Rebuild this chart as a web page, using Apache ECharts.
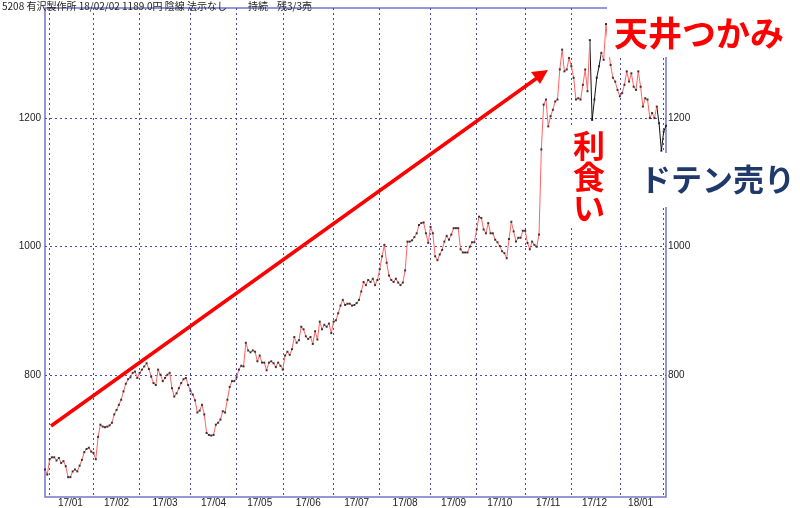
<!DOCTYPE html>
<html><head><meta charset="utf-8">
<script src="https://cdn.jsdelivr.net/npm/echarts@6/dist/echarts.min.js"></script>
<style>html,body{margin:0;padding:0;background:#fff}#c{width:800px;height:508px}</style>
</head><body><div id="c"></div>
<script>
// ---- data ----
const monthLabels = ['16/12','17/01','17/02','17/03','17/04','17/05','17/06','17/07','17/08','17/09','17/10','17/11','17/12','18/01','18/02'];
const monthDays   = [2,19,20,22,20,20,22,20,22,20,21,20,21,19,2];
const prices = [
 652,644,668,671,671,666,670,662,665,657,640,640,649,652,649,658,667,679,684,686,680,678,668,703,722,719,718,719,721,725,738,745,753,761,
 774,786,793,796,803,805,795,803,808,813,818,809,797,787,784,808,800,790,795,800,803,779,766,771,779,787,793,795,784,775,769,760,741,
 744,753,738,709,706,705,706,722,725,730,743,741,761,781,790,790,
 796,808,814,813,850,838,835,838,836,821,830,819,819,807,819,821,818,812,819,814,
 808,830,836,831,840,859,850,854,875,871,860,856,859,848,868,855,883,871,878,875,880,865,
 883,885,896,908,917,909,911,911,908,909,912,917,930,945,940,948,945,950,940,948,
 965,985,1003,975,955,948,945,950,944,940,944,963,1008,1008,1010,1015,1021,1034,1037,1038,1021,1006,
 1031,1021,985,979,988,995,1008,1017,1011,1019,1029,1029,1029,996,991,991,991,1000,1007,1007,
 1027,1047,1045,1027,1021,1037,1021,1021,1011,1007,1001,993,990,982,1012,1039,1024,1008,1014,1014,1025,
 1025,1006,996,1008,1003,1000,1019,1152,1222,1230,1188,1204,1214,1227,1230,1277,1308,1274,1277,1295,
 1282,1264,1230,1232,1230,1253,1277,1243,1323,1198,1230,1264,1282,1303,1292,1348,1309,1284,1264,1258,1245,
 1235,1240,1253,1274,1258,1271,1250,1245,1274,1250,1219,1232,1230,1201,1209,1201,1219,1193,
 1150,1180,1189
];
const yTicks = [800,1000,1200];
const blackRanges = [[236,241],[265,270]];
const header = ['5208 有沢製作所 18/02/02 1189.0円 陰線 法示なし','持続','残3/3売'];

// ---- build categories ----
const categories = [], monthStarts = new Set(), labelAt = {};
let k = 0;
monthLabels.forEach((m, mi) => {
  const n = monthDays[mi];
  if (mi > 0) monthStarts.add(k);
  if (mi > 0 && mi < monthLabels.length - 1) labelAt[k + Math.floor(n / 2)] = m;
  for (let d = 0; d < n; d++) categories.push(m + '#' + (d + 1));
  k += n;
});

const pink = '#ff6464';
const pieces = [];
let prev = 0;
blackRanges.forEach(r => {
  pieces.push({gte: prev, lt: r[0], color: pink});
  pieces.push({gte: r[0], lt: r[1], color: '#111'});
  prev = r[1];
});
pieces.push({gte: prev, color: pink});

const gridCol = '#4b4bae';
const labelFont = {fontSize: 10, color: '#222', fontFamily: 'Liberation Sans'};

const chart = echarts.init(document.getElementById('c'), null, {renderer: 'canvas'});
chart.setOption({
  animation: false,
  backgroundColor: '#fff',
  grid: {left: 45, right: 134, top: 8, bottom: 11, show: true, borderColor: '#7474cc', borderWidth: 1.5},
  xAxis: {
    type: 'category', data: categories, boundaryGap: false,
    axisLine: {show: false}, axisTick: {show: false},
    axisLabel: Object.assign({interval: (i) => labelAt[i] !== undefined, formatter: (v) => v.split('#')[0], margin: 1}, labelFont),
    splitLine: {show: true, interval: (i) => monthStarts.has(i), lineStyle: {color: gridCol, type: [2, 3], width: 1}}
  },
  yAxis: [
    {type: 'value', min: 609, max: 1373, position: 'left',
     axisLine: {show: false}, axisTick: {show: false, customValues: yTicks},
     axisLabel: Object.assign({customValues: yTicks, margin: 4, formatter: (v) => String(v)}, labelFont),
     splitLine: {show: true, lineStyle: {color: gridCol, type: [2, 3], width: 1}}},
    {type: 'value', min: 609, max: 1373, position: 'right',
     axisLine: {show: false}, axisTick: {show: false, customValues: yTicks},
     axisLabel: Object.assign({customValues: yTicks, margin: 2, formatter: (v) => String(v)}, labelFont),
     splitLine: {show: false}}
  ],
  visualMap: {type: 'piecewise', show: false, dimension: 0, seriesIndex: 0, pieces: pieces},
  series: [
    {type: 'line', data: prices, showSymbol: false, lineStyle: {width: 1}, z: 3},
    {type: 'scatter', data: prices, symbol: 'rect', symbolSize: 2, itemStyle: {color: '#111'}, z: 4}
  ],
  graphic: [
    {type: 'text', x: 2, y: 1, style: {text: header[0], font: '10px "Noto Sans CJK JP"', fill: '#222'}},
    {type: 'text', x: 248, y: 1, style: {text: header[1], font: '10px "Noto Sans CJK JP"', fill: '#222'}},
    {type: 'text', x: 277, y: 1, style: {text: header[2], font: '10px "Noto Sans CJK JP"', fill: '#222'}},
    {type: 'rect', shape: {x: 607, y: 0, width: 193, height: 57}, style: {fill: '#fff'}, z: 100},
    {type: 'text', x: 614, y: 16, style: {text: '天井つかみ', font: 'bold 34px "Noto Sans CJK JP"', fill: '#ff0000'}, z: 101},
    {type: 'rect', shape: {x: 566, y: 127, width: 54, height: 101}, style: {fill: '#fff'}, z: 100},
    {type: 'text', x: 589, y: 130, style: {text: '利\n食\nい', font: 'bold 32px "Noto Sans CJK JP"', fill: '#ff0000', align: 'center', lineHeight: 31}, z: 101},
    {type: 'rect', shape: {x: 632, y: 153, width: 168, height: 54}, style: {fill: '#fff'}, z: 100},
    {type: 'text', x: 640, y: 164, style: {text: 'ドテン売り', font: 'bold 31px "Noto Sans CJK JP"', fill: '#1f3a6a'}, z: 101},
    {type: 'line', shape: {x1: 51, y1: 426, x2: 537, y2: 78}, style: {stroke: '#ff0000', lineWidth: 3.5}, z: 90},
    {type: 'polygon', shape: {points: [[548, 70], [540, 84], [531, 72]]}, style: {fill: '#ff0000'}, z: 91}
  ]
});
</script>
</body></html>
